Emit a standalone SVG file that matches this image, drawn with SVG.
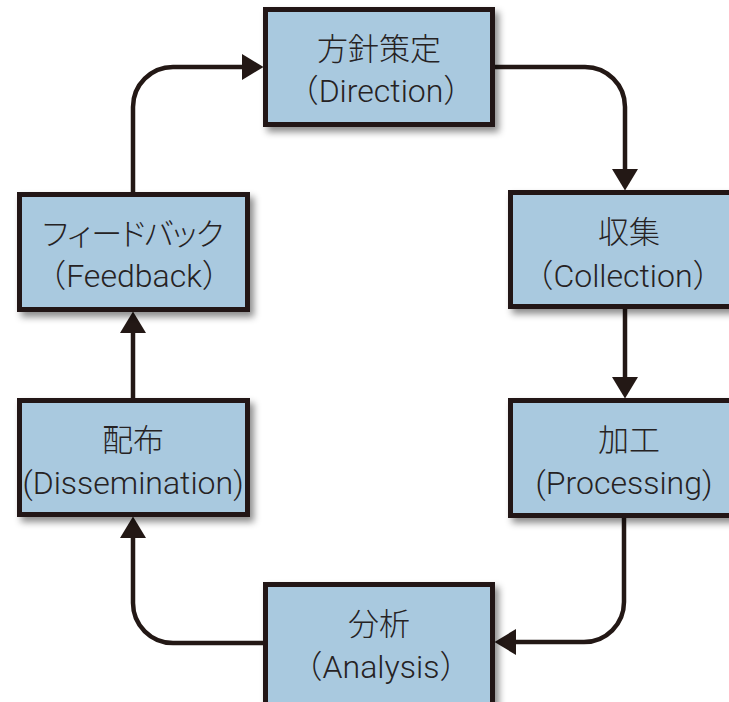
<svg xmlns="http://www.w3.org/2000/svg" width="729" height="702" viewBox="0 0 729 702">
<defs>
<filter id="sh" x="-10%" y="-10%" width="130%" height="130%">
<feDropShadow dx="4" dy="5" stdDeviation="3.5" flood-color="#000" flood-opacity="0.45"/>
</filter>
<marker id="ah" markerUnits="userSpaceOnUse" markerWidth="22" markerHeight="26" viewBox="0 0 22 26" refX="2" refY="13" orient="auto">
<path d="M0,0 L21.5,13 L0,26 z" fill="#231815"/>
</marker>
<style>
.box{fill:#a9c9df;stroke:#231815;stroke-width:5;filter:url(#sh)}
.t{font-family:Roboto,"Noto Sans CJK JP",sans-serif;font-size:32px;fill:#262223;text-anchor:middle;font-weight:300}
.j{font-family:"Noto Sans CJK JP",sans-serif;font-size:31px;fill:#262223;text-anchor:middle;font-weight:300}
.c{fill:none;stroke:#231815;stroke-width:4.5;marker-end:url(#ah)}
</style>
</defs>
<rect width="729" height="702" fill="#fff"/>
<g id="connectors">
<path class="c" d="M133,192 V107 A40,40 0 0 1 173,67 H244"/>
<path class="c" d="M495,67 H585 A40,40 0 0 1 625,107 V171"/>
<path class="c" d="M625,309 V379"/>
<path class="c" d="M624,518 V602 A40,40 0 0 1 584,642 H514"/>
<path class="c" d="M263,643 H173 A40,40 0 0 1 133,603 V536"/>
<path class="c" d="M133,398 V331"/>
</g>
<g id="direction">
<rect class="box" x="265.5" y="9.5" width="227" height="115"/>
<text class="j" x="379" y="60">方針策定</text>
<text class="t" x="381" y="102">（Direction）</text>
</g>
<g id="collection">
<rect class="box" x="510.5" y="192.5" width="228" height="114"/>
<text class="j" x="629" y="243">収集</text>
<text class="t" x="623" y="287">（Collection）</text>
</g>
<g id="processing">
<rect class="box" x="510.5" y="400.5" width="228" height="115"/>
<text class="j" x="629" y="451">加工</text>
<text class="t" x="624" y="494">(Processing)</text>
</g>
<g id="analysis">
<rect class="box" x="265.5" y="584.5" width="227" height="140"/>
<text class="j" x="379" y="635">分析</text>
<text class="t" x="381" y="678">（Analysis）</text>
</g>
<g id="dissemination">
<rect class="box" x="19.5" y="400.5" width="228" height="114"/>
<text class="j" x="133" y="451">配布</text>
<text class="t" x="133" y="494">(Dissemination)</text>
</g>
<g id="feedback">
<rect class="box" x="19.5" y="194.5" width="228" height="115"/>
<text class="j" x="133" y="245" textLength="186" lengthAdjust="spacing">フィードバック</text>
<text class="t" x="134" y="287">（Feedback）</text>
</g>
</svg>
